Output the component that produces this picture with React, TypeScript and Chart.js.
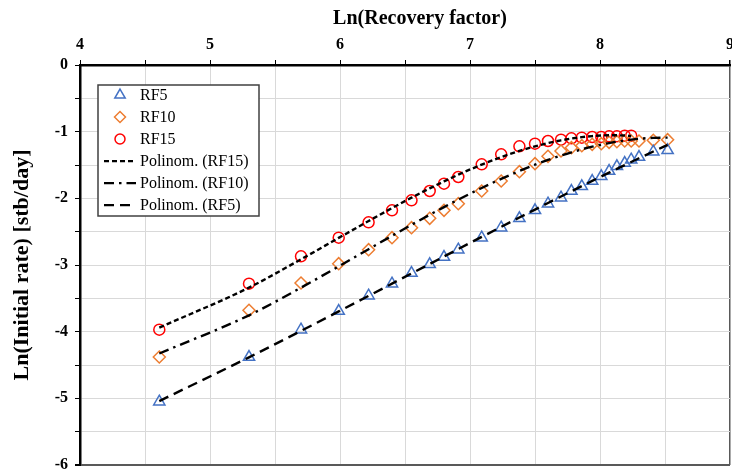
import React, { useEffect, useRef } from 'react';
import { Chart, registerables } from 'chart.js';

Chart.register(...registerables);

// Ln(Recovery factor) values per series
const rf5X = [4.61, 5.30, 5.70, 5.99, 6.22, 6.40, 6.55, 6.69, 6.80, 6.91, 7.09, 7.24, 7.38, 7.50, 7.60, 7.70, 7.78, 7.86, 7.94, 8.01, 8.07, 8.13, 8.19, 8.24, 8.30, 8.41, 8.52];
const rf10X = [4.61, 5.30, 5.70, 5.99, 6.22, 6.40, 6.55, 6.69, 6.80, 6.91, 7.09, 7.24, 7.38, 7.50, 7.60, 7.70, 7.78, 7.86, 7.94, 8.01, 8.07, 8.13, 8.19, 8.24, 8.30, 8.41, 8.52];
const rf15X = [4.61, 5.30, 5.70, 5.99, 6.22, 6.40, 6.55, 6.69, 6.80, 6.91, 7.09, 7.24, 7.38, 7.50, 7.60, 7.70, 7.78, 7.86, 7.94, 8.01, 8.07, 8.13, 8.19, 8.24];

// Ln(Initial rate) values per series
const rf5Y = [-5.05, -4.38, -3.97, -3.69, -3.46, -3.28, -3.12, -2.99, -2.88, -2.77, -2.59, -2.44, -2.30, -2.18, -2.08, -1.99, -1.89, -1.82, -1.74, -1.67, -1.59, -1.52, -1.47, -1.42, -1.38, -1.30, -1.28];
const rf10Y = [-4.38, -3.68, -3.27, -2.98, -2.77, -2.59, -2.44, -2.30, -2.18, -2.08, -1.89, -1.74, -1.60, -1.48, -1.37, -1.29, -1.24, -1.21, -1.19, -1.18, -1.16, -1.15, -1.14, -1.14, -1.14, -1.13, -1.12];
const rf15Y = [-3.97, -3.28, -2.87, -2.59, -2.36, -2.18, -2.03, -1.89, -1.78, -1.68, -1.49, -1.34, -1.22, -1.18, -1.14, -1.12, -1.10, -1.09, -1.08, -1.08, -1.07, -1.07, -1.06, -1.06];

const xTickLabels = [4, 5, 6, 7, 8, 9];
const yTickLabels = [0, -1, -2, -3, -4, -5, -6];
const xTitle = 'Ln(Recovery factor)';
const yTitle = 'Ln(Initial rate) [stb/day]';

const BLUE = '#4472C4';
const ORANGE = '#ED7D31';
const RED = '#FF0000';
const SERIF = '"Liberation Serif", "Times New Roman", serif';
const POLY_ORDER = 3;

// Least-squares polynomial fit; returns coefficients c0..cn
function polyFit(xs: number[], ys: number[], order: number): number[] {
  const n = order + 1;
  const A: number[][] = [];
  for (let i = 0; i < n; i++) {
    A.push(new Array(n + 1).fill(0));
    for (let j = 0; j < n; j++) {
      let s = 0;
      for (const x of xs) s += Math.pow(x, i + j);
      A[i][j] = s;
    }
    let r = 0;
    xs.forEach((x, k) => { r += ys[k] * Math.pow(x, i); });
    A[i][n] = r;
  }
  for (let c = 0; c < n; c++) {
    let p = c;
    for (let r = c + 1; r < n; r++) if (Math.abs(A[r][c]) > Math.abs(A[p][c])) p = r;
    [A[c], A[p]] = [A[p], A[c]];
    for (let r = 0; r < n; r++) {
      if (r === c) continue;
      const f = A[r][c] / A[c][c];
      for (let k = c; k <= n; k++) A[r][k] -= f * A[c][k];
    }
  }
  return A.map((row, i) => row[n] / row[i]);
}

// Trendline evaluated at the series' own x values
function trend(xs: number[], ys: number[]) {
  const c = polyFit(xs, ys, POLY_ORDER);
  return xs.map((x) => ({ x, y: c.reduce((s, ci, i) => s + ci * Math.pow(x, i), 0) }));
}

const pts = (xs: number[], ys: number[]) => xs.map((x, i) => ({ x, y: ys[i] }));

type LegendRow =
  | { kind: 'marker'; shape: 'triangle' | 'rectRot' | 'circle'; color: string; label: string }
  | { kind: 'line'; dash: number[]; label: string };

const DASH_RF15 = [5, 3];
const DASH_RF10 = [10, 5, 2.5, 5];
const DASH_RF5 = [10, 6];

const legendRows: LegendRow[] = [
  { kind: 'marker', shape: 'triangle', color: BLUE, label: 'RF5' },
  { kind: 'marker', shape: 'rectRot', color: ORANGE, label: 'RF10' },
  { kind: 'marker', shape: 'circle', color: RED, label: 'RF15' },
  { kind: 'line', dash: DASH_RF15, label: 'Polinom. (RF15)' },
  { kind: 'line', dash: DASH_RF10, label: 'Polinom. (RF10)' },
  { kind: 'line', dash: DASH_RF5, label: 'Polinom. (RF5)' },
];

// Boxed legend inside the plot plus the top axis title
const overlay = {
  id: 'overlay',
  afterDraw(chart: Chart) {
    const ctx = chart.ctx;
    ctx.save();
    ctx.fillStyle = '#000';
    ctx.font = `bold 20px ${SERIF}`;
    ctx.textAlign = 'center';
    ctx.textBaseline = 'middle';
    ctx.fillText(xTitle, 420, 19);

    const left = 98, top = 85, w = 161, h = 131;
    ctx.fillStyle = '#ffffff';
    ctx.fillRect(left, top, w, h);
    ctx.strokeStyle = '#404040';
    ctx.lineWidth = 1.5;
    ctx.strokeRect(left, top, w, h);
    ctx.font = `16px ${SERIF}`;
    ctx.textBaseline = 'middle';
    ctx.textAlign = 'left';
    legendRows.forEach((row, i) => {
      const cy = top + 10 + i * 22;
      const mx = 120;
      ctx.save();
      if (row.kind === 'marker') {
        ctx.strokeStyle = row.color;
        ctx.lineWidth = 1.5;
        ctx.beginPath();
        if (row.shape === 'circle') {
          ctx.arc(mx, cy, 5, 0, Math.PI * 2);
        } else if (row.shape === 'rectRot') {
          const r = 5.5;
          ctx.moveTo(mx - r, cy); ctx.lineTo(mx, cy - r); ctx.lineTo(mx + r, cy); ctx.lineTo(mx, cy + r); ctx.closePath();
        } else {
          const r = 6;
          ctx.moveTo(mx, cy - r);
          ctx.lineTo(mx + r * Math.sin((2 * Math.PI) / 3), cy - r * Math.cos((2 * Math.PI) / 3));
          ctx.lineTo(mx + r * Math.sin((4 * Math.PI) / 3), cy - r * Math.cos((4 * Math.PI) / 3));
          ctx.closePath();
        }
        ctx.stroke();
      } else {
        ctx.strokeStyle = '#000';
        ctx.lineWidth = 2.25;
        ctx.setLineDash(row.dash);
        ctx.beginPath();
        ctx.moveTo(104, cy);
        ctx.lineTo(136, cy);
        ctx.stroke();
      }
      ctx.restore();
      ctx.fillStyle = '#000';
      ctx.fillText(row.label, 140, cy + 1);
    });
    ctx.restore();
  },
};

export default function App() {
  const ref = useRef<HTMLCanvasElement | null>(null);

  useEffect(() => {
    if (!ref.current) return;
    const tickFont = { family: SERIF, size: 16, weight: 'bold' as const };
    const markerSet = (label: string, data: any[], shape: string, color: string, radius: number) => ({
      type: 'scatter' as const,
      label,
      data,
      showLine: false,
      pointStyle: shape,
      pointRadius: radius,
      pointBorderColor: color,
      pointBackgroundColor: 'rgba(0,0,0,0)',
      pointBorderWidth: 1.5,
      order: 2,
    });
    const trendSet = (label: string, data: any[], dash: number[]) => ({
      type: 'line' as const,
      label,
      data,
      borderColor: '#000',
      borderWidth: 2.4,
      borderDash: dash,
      pointRadius: 0,
      fill: false,
      tension: 0.4,
      cubicInterpolationMode: 'monotone' as const,
      order: 1,
    });

    const chart = new Chart(ref.current, {
      type: 'scatter',
      data: {
        datasets: [
          markerSet('RF5', pts(rf5X, rf5Y), 'triangle', BLUE, 6.5),
          markerSet('RF10', pts(rf10X, rf10Y), 'rectRot', ORANGE, 6),
          markerSet('RF15', pts(rf15X, rf15Y), 'circle', RED, 5.5),
          trendSet('Polinom. (RF15)', trend(rf15X, rf15Y), DASH_RF15),
          trendSet('Polinom. (RF10)', trend(rf10X, rf10Y), DASH_RF10),
          trendSet('Polinom. (RF5)', trend(rf5X, rf5Y), DASH_RF5),
        ] as any,
      },
      options: {
        responsive: false,
        animation: false,
        layout: { padding: { left: 0, top: 0, right: 30, bottom: 25 } },
        plugins: { legend: { display: false }, tooltip: { enabled: false } },
        scales: {
          x: {
            type: 'linear',
            position: 'top',
            min: 4,
            max: 9,
            ticks: {
              stepSize: 0.5,
              autoSkip: false,
              maxRotation: 0,
              color: '#000',
              font: tickFont,
              padding: 6,
              callback: (v: any) => (xTickLabels.includes(Number(v)) ? String(v) : ''),
            },
            grid: {
              color: (c: any) => (c.tick && c.tick.value === 9 ? '#595959' : '#d9d9d9'),
              lineWidth: (c: any) => (c.tick && c.tick.value === 9 ? 1.5 : 1),
              tickColor: '#000',
              tickLength: 5,
            },
            border: { color: '#000', width: 2.5 },
            afterFit: (s: any) => { s.height = 65; },
          },
          y: {
            type: 'linear',
            min: -6,
            max: 0,
            ticks: {
              stepSize: 0.5,
              autoSkip: false,
              color: '#000',
              font: tickFont,
              padding: 7,
              callback: (v: any) => (yTickLabels.includes(Number(v)) ? String(v) : ''),
            },
            grid: {
              color: (c: any) => (c.tick && c.tick.value === -6 ? '#595959' : '#d9d9d9'),
              lineWidth: (c: any) => (c.tick && c.tick.value === -6 ? 2 : 1),
              tickColor: '#000',
              tickLength: 5,
            },
            border: { color: '#000', width: 2.5 },
            title: { display: true, text: yTitle, color: '#000', font: { family: SERIF, size: 22, weight: 'bold' }, padding: { top: 9, bottom: 0 } },
            afterFit: (s: any) => { s.width = 80; },
          },
        },
      } as any,
      plugins: [overlay],
    });
    return () => chart.destroy();
  }, []);

  return (
    <div style={{ position: 'fixed', left: 0, top: 0, width: 732, height: 470, overflow: 'hidden', background: '#fff' }}>
      <canvas ref={ref} width={760} height={490} style={{ width: 760, height: 490, display: 'block' }} />
    </div>
  );
}
